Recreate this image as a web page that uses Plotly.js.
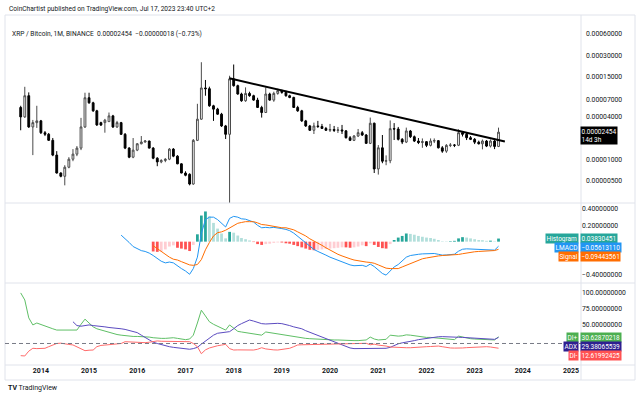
<!DOCTYPE html>
<html><head><meta charset="utf-8">
<script src="https://cdn.plot.ly/plotly-3.0.1.min.js"></script>
<style>html,body{margin:0;padding:0;background:#fff;}#chart{width:640px;height:398px;}</style>
</head><body><div id="chart"></div>
<script>
// ---------- DATA ----------
const startYear = 2013, startMonth = 8, monthCount = 120; // Aug 2013 .. Jul 2023 monthly bars
const months = [];
for (let k = 0; k < monthCount; k++) {
  const m = startMonth - 1 + k;
  months.push((startYear + Math.floor(m / 12)) + '-' + String(m % 12 + 1).padStart(2, '0') + '-01');
}
const SATOSHI = 1e-8; // prices below are in satoshis (BTC * 1e8)
const openSats = [5500,4040,8070,2910,3350,3550,2410,2290,1880,1160, 646,581,781,1015,1197,1458,2910,7550,6405,4925,
  3350,3350,3464,4178,2910,3351,2288,1458,1084,1365, 1679,1776,1835,1458,1049,929,973,1015,1411,1121,
  872,646,620,451,1878,3750,10400,10150,5806,5208, 4418,3007,2288,13970,11207,8530,6840,8700,8067,7000,
  5500,4660,8530,7000,8700,9510,8997,8067,7627,5500, 4925,3545,3007,2610,3007,2950,2770,2610,2680,2600,
  2640,2560,2047,1878,2164,2412,2237,1702,3286,738, 1472,951,965,2751,2720,1942,1776,2551,2114,1835,
  1750,1800,1595,1835,1860,1472,1321,1595,1610,1600, 2412,2288,2047,1942,1770,1680,1835,1557,1835,1540];
const highSats = [5810,10800,9000,3660,5810,3660,2550,2390,2030,1320, 662,834,1084,1411,1557,3912,8900,8900,6620,5090,
  3450,3786,4660,4318,3545,3432,2389,1507,2027,1719, 2164,1900,1860,1507,1084,1015,1049,1458,1458,1158,
  890,684,640,1961,6198,24100,13500,10845,6000,5434, 4612,3108,15500,22370,11582,8904,10593,9202,8338,7550,
  5806,10593,8904,9202,10154,9826,9510,8338,7807,5806, 5090,3663,3108,3351,3545,3212,2910,3212,3007,2910,
  3108,2620,2164,2237,2724,2551,2312,3951,3351,1610, 2237,1150,3600,3300,2910,2027,2845,2637,2200,2027,
  2000,1835,2000,2000,1897,1557,1663,1719,1663,2693, 2551,2468,2164,2027,1860,1930,1897,1930,1990,2845];
const lowSats = [2610,3910,2820,1160,2820,2310,2160,1840,1120,635, 562,432,755,951,1121,1365,2815,6200,4766,3007,
  3000,2412,3430,2815,2815,2237,1411,1049,1049,1321, 1650,1750,1440,1015,807,890,920,983,1084,862,
  640,581,432,440,1835,3660,8070,5618,3545,4318, 2910,1961,239,10845,8338,6619,6619,7807,6840,5434,
  3951,4612,6840,6619,8338,8616,7807,7440,5434,4766, 3432,2910,2551,2312,2815,2724,2551,2468,2468,2389,
  2312,1995,1835,1835,2094,2164,1679,1663,646,614, 890,834,890,1900,1870,1663,1719,2027,1776,1663,
  1472,1507,1540,1719,1440,1250,1250,1507,1507,1557, 2130,1897,1897,1663,1640,1400,1507,1490,1411,1507];
const closeSats = [4040,8070,2910,3350,3550,2410,2290,1880,1160,646, 581,781,1015,1197,1458,2910,7550,6405,4925,3108,
  3100,3627,4178,2910,3351,2288,1458,1084,1365,1679, 1776,1835,1458,1049,929,973,1015,1411,1121,872,
  646,600,451,1878,3750,10400,10150,5806,5208,4418, 3007,2288,13970,11207,8530,6840,8700,8067,7000,5500,
  4660,8530,7000,8700,9510,8997,8067,7627,5500,4925, 3545,3007,2610,3007,2950,2770,2610,2680,2600,2640,
  2560,2047,1878,2164,2412,2237,1702,3286,738,1472, 951,965,2751,2720,1942,1776,2551,2114,1835,1750,
  1800,1595,1835,1860,1472,1321,1595,1610,1600,2412, 2288,2047,1942,1770,1680,1835,1557,1835,1540,2454];

// drawn trend line (two anchor points)
const trendDates = ['2017-11-29', '2023-08-18'];
const trendPrices = [0.0001426, 0.00001806];

// LMACD pane
const macdStart = 25;
const macdLine = [0.08,0.04,-0.01,-0.06,-0.09,-0.11,-0.12,-0.14,-0.17,-0.21,
  -0.24,-0.26,-0.25,-0.26,-0.30,-0.33,-0.36,-0.40,-0.33,-0.19,
  0.10,0.27,0.30,0.30,0.27,0.22,0.18,0.285,0.31,0.30,
  0.28,0.275,0.26,0.24,0.20,0.17,0.175,0.17,0.175,0.17,
  0.16,0.15,0.135,0.105,0.065,0.025,-0.015,-0.065,-0.095,-0.12,
  -0.14,-0.165,-0.19,-0.21,-0.23,-0.245,-0.265,-0.285,-0.295,-0.295,
  -0.29,-0.305,-0.275,-0.305,-0.35,-0.39,-0.41,-0.36,-0.31,-0.28,
  -0.24,-0.19,-0.17,-0.16,-0.155,-0.15,-0.15,-0.145,-0.145,-0.155,
  -0.165,-0.163,-0.159,-0.154,-0.117,-0.093,-0.088,-0.09,-0.094,-0.10,
  -0.098,-0.103,-0.098,-0.104,-0.056];
const signalStart = 33;
const signalLine = [-0.05,-0.085,-0.12,-0.165,-0.19,-0.215,-0.225,-0.245,-0.265,-0.285,
  -0.29,-0.28,-0.22,-0.10,-0.01,0.07,0.11,0.12,0.14,0.165,
  0.20,0.225,0.235,0.245,0.245,0.245,0.23,0.21,0.205,0.195,
  0.19,0.18,0.17,0.17,0.16,0.145,0.12,0.095,0.07,0.035,
  0.01,-0.02,-0.045,-0.075,-0.105,-0.13,-0.155,-0.175,-0.195,-0.21,
  -0.225,-0.235,-0.245,-0.25,-0.255,-0.265,-0.285,-0.31,-0.325,-0.33,
  -0.33,-0.33,-0.31,-0.29,-0.265,-0.245,-0.225,-0.21,-0.20,-0.19,
  -0.18,-0.175,-0.17,-0.167,-0.165,-0.164,-0.157,-0.148,-0.138,-0.13,
  -0.124,-0.12,-0.116,-0.113,-0.11,-0.109,-0.094];
const histValues = [-0.12,-0.125,-0.12,-0.095,-0.06,-0.045,-0.075,-0.085,-0.095,-0.115,
  -0.04,0.09,0.32,0.37,0.31,0.23,0.16,0.10,0.04,0.12,
  0.11,0.075,0.045,0.03,0.015,-0.005,-0.03,-0.04,-0.03,-0.025,
  -0.015,-0.01,-0.01,-0.02,-0.025,-0.04,-0.055,-0.07,-0.085,-0.10,
  -0.105,-0.10,-0.095,-0.09,-0.085,-0.08,-0.075,-0.07,-0.07,-0.075,
  -0.07,-0.06,-0.045,-0.055,-0.02,-0.04,-0.065,-0.08,-0.085,-0.03,
  0.02,0.05,0.07,0.10,0.095,0.085,0.07,0.06,0.05,0.045,
  0.035,0.02,0.005,0.004,0.006,0.01,0.04,0.055,0.05,0.04,
  0.03,0.02,0.018,0.01,0.012,0.005,0.038];

// DMI pane
const diPlus = [99,88,60,49,52,50,47,45,43,41, 41,41,41,41,41,50,58,52,46,43,
  41,39,37,35,34,33,32,32,31,31, 31,30,30,29,28,28,28,29,29,28,
  27,26,27,33,52,72,63,54,50,47, 44,41,49,44,39,38,37,36,35,34,
  33,38,37,36,35,34,33,32,31,29, 28,28,27.5,27,27,26.5,26,26,25.5,25.5,
  25,25,24.5,24.5,24.5,25,25.5,30,27,25.5, 26,26.5,33,32,31.5,32,33.5,33,32,31,
  30,29.5,29.5,29,28.5,27.5,27,26.5,26,31.5, 30,28.5,27.5,27,26.5,26.5,25.5,26,25.5,30.63];
const diMinus = [1,0.5,8,12.5,12,12.5,12.5,15,18,20, 20.5,19,18.5,17.7,15,11,8.8,9.5,9.8,15,
  17,17.5,18,18.5,18.7,20,22.8,22.5,22,21.5, 21.3,21.3,22,23,24,23.5,23.5,23,23,23,
  23,23,22.8,20,15,4,10,13,15,16.5, 17.5,18.7,12,9.8,10,10,10,10,9.8,11,
  13.4,11.5,10.5,10,9.8,10.5,11.5,12.5,15,17.7, 18,18.2,18.4,18.6,18.7,18.8,19,19.2,19.2,19.5,
  19.7,20,20,20.2,20.3,20.3,20.3,18,19,17.5, 17,16,14.5,14,13.8,13.6,13.4,13.4,14,14.5,
  15,15,15.3,15.6,16,15,13.5,13,12.8,12.5, 13,13.5,14,14.5,15,15,15,14.5,14,12.62];
const adxStart = 13;
const adxLine = [54,48,47,48.5,49,48,47,46.5,46,45,
  44.7,44,43,42,40,38,37,33,29,26,
  22,20,18,16.5,15,14,13,12,11.5,11,
  12,14,19,24,29,33,36,37,38,38.5,
  43,48,51,54,56.7,55,53,51,50.5,51,
  51.5,51.5,51,50,48,46,44.5,43,40,37.5,
  35,33,30.5,28,25.5,23,20.5,18,15.5,13,
  12,12,12,12,12,12.5,12.5,12.5,12.5,14,
  17,19.5,21,22,22.8,24.5,26,27,28,29,
  30,30.5,30.7,30.7,30.5,30,29.7,29.5,29,28.5,
  28,27.5,27.2,27,26.7,26.5,29.38];
const dmiLevel = 20;

// axis tick labels
const yearTicks = ['2014','2015','2016','2017','2018','2019','2020','2021','2022','2023','2024','2025'];
const priceTickVals = [0.0006, 0.0003, 0.00015, 0.00007, 0.00004, 0.00001, 0.000005];
const priceTickText = ['0.00060000','0.00030000','0.00015000','0.00007000','0.00004000','0.00001000','0.00000500'];
const macdTickVals = [0.4, 0.2, -0.4];
const macdTickText = ['0.40000000','0.20000000','\u22120.40000000'];
const dmiTickVals = [100, 75, 50];
const dmiTickText = ['100.00000000','75.00000000','50.00000000'];

// ---------- BUILD ----------
const FONT = 'Roboto, "Liberation Sans", Arial, sans-serif';
const TXT = '#131722';
const toPrice = a => a.map(v => v * SATOSHI);

const histColors = histValues.map((h, k) => {
  const prev = k > 0 ? histValues[k - 1] : 0;
  if (h >= 0) return h >= prev ? '#26A69A' : '#B2DFDB';
  return h <= prev ? '#FF5252' : '#FFCDD2';
});

const traces = [
  { type: 'candlestick', x: months, open: toPrice(openSats), high: toPrice(highSats), low: toPrice(lowSats), close: toPrice(closeSats),
    xaxis: 'x', yaxis: 'y', whiskerwidth: 0,
    increasing: { line: { color: '#4a4a4a', width: 1 }, fillcolor: '#ffffff' },
    decreasing: { line: { color: '#000000', width: 1 }, fillcolor: '#000000' }, hoverinfo: 'skip' },
  { type: 'scatter', mode: 'lines', x: trendDates, y: trendPrices, xaxis: 'x', yaxis: 'y',
    line: { color: '#000000', width: 2 }, hoverinfo: 'skip' },
  { type: 'bar', x: months.slice(signalStart), y: histValues, xaxis: 'x', yaxis: 'y2',
    marker: { color: histColors, line: { width: 0 } }, hoverinfo: 'skip' },
  { type: 'scatter', mode: 'lines', x: months.slice(macdStart), y: macdLine, xaxis: 'x', yaxis: 'y2',
    line: { color: '#2196F3', width: 1 }, hoverinfo: 'skip' },
  { type: 'scatter', mode: 'lines', x: months.slice(signalStart), y: signalLine, xaxis: 'x', yaxis: 'y2',
    line: { color: '#FF6D00', width: 1 }, hoverinfo: 'skip' },
  { type: 'scatter', mode: 'lines', x: months, y: diPlus, xaxis: 'x', yaxis: 'y3',
    line: { color: '#5FBF66', width: 1 }, hoverinfo: 'skip' },
  { type: 'scatter', mode: 'lines', x: months.slice(adxStart), y: adxLine, xaxis: 'x', yaxis: 'y3',
    line: { color: '#5B4BC0', width: 1 }, hoverinfo: 'skip' },
  { type: 'scatter', mode: 'lines', x: months, y: diMinus, xaxis: 'x', yaxis: 'y3',
    line: { color: '#FF6B6B', width: 1 }, hoverinfo: 'skip' }
];

// pixel -> paper helpers for layout decoration
const PL = 5, PR = 581, PT = 15, PB = 365;
const px = X => (X - PL) / (PR - PL);
const py = Y => (PB - Y) / (PB - PT);

const yAxisCommon = { side: 'right', showgrid: false, zeroline: false, showline: false, ticks: '',
  tickfont: { family: FONT, size: 6.8, color: TXT }, anchor: 'x', fixedrange: true };

const borderColor = '#E0E3EB';
const shapes = [
  { type: 'rect', xref: 'paper', yref: 'paper', x0: px(5), x1: px(635), y0: py(380), y1: py(15), line: { color: borderColor, width: 1 } },
  { type: 'line', xref: 'paper', yref: 'paper', x0: 1, x1: 1, y0: py(380), y1: py(15), line: { color: borderColor, width: 1 } },
  { type: 'line', xref: 'paper', yref: 'paper', x0: 0, x1: px(635), y0: py(203), y1: py(203), line: { color: borderColor, width: 1 } },
  { type: 'line', xref: 'paper', yref: 'paper', x0: 0, x1: px(635), y0: py(283), y1: py(283), line: { color: borderColor, width: 1 } },
  { type: 'line', xref: 'paper', yref: 'paper', x0: 0, x1: px(635), y0: 0, y1: 0, line: { color: borderColor, width: 1 } },
  { type: 'line', xref: 'paper', yref: 'y3', x0: 0, x1: 1, y0: dmiLevel, y1: dmiLevel, line: { color: '#787B86', width: 1, dash: '4px,3px' } }
];

function box(text, xPix, yPix, anchor, bg) {
  return { xref: 'paper', yref: 'paper', x: px(xPix), y: py(yPix), xanchor: anchor, yanchor: 'middle',
    text: text, showarrow: false, bgcolor: bg, borderpad: 0.5, align: 'left',
    font: { family: FONT, size: 6.5, color: '#ffffff' } };
}
const annotations = [
  { xref: 'paper', yref: 'paper', x: px(7), y: py(9), xanchor: 'left', yanchor: 'middle', showarrow: false,
    text: 'CoinChartist published on TradingView.com, Jul 17, 2023 23:40 UTC+2', font: { family: FONT, size: 6.6, color: TXT } },
  { xref: 'paper', yref: 'paper', x: px(10), y: py(34), xanchor: 'left', yanchor: 'middle', showarrow: false,
    text: 'XRP / Bitcoin, 1M, BINANCE  0.00002454  \u22120.00000018 (\u22120.73%)', font: { family: FONT, size: 6.6, color: TXT } },
  box('0.00002454<br>14d 3h', 579.5, 135.5, 'left', '#000000'),
  box('Histogram', 578.5, 238.5, 'right', '#26A69A'),
  box('0.03830451', 579.5, 238.5, 'left', '#26A69A'),
  box('LMACD', 578.5, 247.5, 'right', '#2196F3'),
  box('\u22120.05613110', 579.5, 247.5, 'left', '#2196F3'),
  box('Signal', 578.5, 256.5, 'right', '#FF6D00'),
  box('\u22120.09443561', 579.5, 256.5, 'left', '#FF6D00'),
  box('DI+', 578.5, 337, 'right', '#4CAF50'),
  box('30.62870218', 579.5, 337, 'left', '#4CAF50'),
  box('ADX', 578.5, 346, 'right', '#2E1F90'),
  box('29.38065539', 579.5, 346, 'left', '#2E1F90'),
  box('DI-', 578.5, 355, 'right', '#FF5252'),
  box('12.61992425', 579.5, 355, 'left', '#FF5252'),
  { xref: 'paper', yref: 'paper', x: px(6), y: py(388), xanchor: 'left', yanchor: 'middle', showarrow: false,
    text: '<b>TV</b> TradingView', font: { family: FONT, size: 7, color: TXT } }
];
// price-scale labels (log axis: annotation y is log10 of the value)
priceTickVals.forEach((v, k) => annotations.push({
  xref: 'paper', yref: 'y', x: px(584), y: Math.log10(v), xanchor: 'left', yanchor: 'middle', showarrow: false,
  text: priceTickText[k], font: { family: FONT, size: 6.8, color: TXT } }));

const layout = {
  width: 640, height: 398,
  margin: { l: PL, r: 640 - PR, t: PT, b: 398 - PB, pad: 0 },
  paper_bgcolor: '#ffffff', plot_bgcolor: '#ffffff',
  showlegend: false, hovermode: false, dragmode: false, bargap: 0.25,
  xaxis: { type: 'date', range: ['2013-04-04', '2025-03-17'], anchor: 'y3', domain: [0, 1],
    tickvals: yearTicks.map(y => y + '-01-01'), ticktext: yearTicks, ticks: '',
    tickfont: { family: FONT, size: 7, color: TXT, weight: 'bold' },
    showgrid: false, zeroline: false, showline: false, rangeslider: { visible: false }, fixedrange: true },
  yaxis: Object.assign({}, yAxisCommon, { type: 'log', domain: [py(203), 1], range: [-5.615, -2.948],
    showticklabels: false }),
  yaxis2: Object.assign({}, yAxisCommon, { domain: [py(283), py(203)], range: [-0.5067, 0.4737],
    tickvals: macdTickVals, ticktext: macdTickText }),
  yaxis3: Object.assign({}, yAxisCommon, { domain: [0, py(283)], range: [-13.6, 114.5],
    tickvals: dmiTickVals, ticktext: dmiTickText }),
  shapes: shapes, annotations: annotations
};

Plotly.newPlot('chart', traces, layout, { staticPlot: true, displayModeBar: false });
</script>
</body></html>
